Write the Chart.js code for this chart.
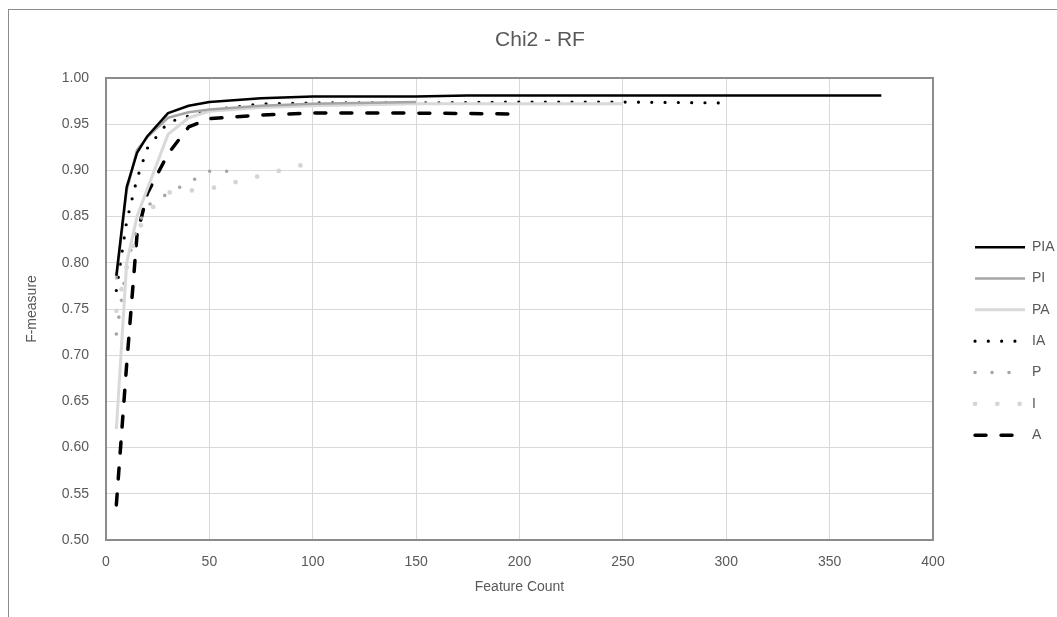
<!DOCTYPE html>
<html>
<head>
<meta charset="utf-8">
<title>Chi2 - RF</title>
<script src="https://cdn.jsdelivr.net/npm/chart.js@4.4.0/dist/chart.umd.min.js"></script>
<style>
  body { margin: 0; background: #fff; overflow: hidden; }
  #frame { position: absolute; left: 8px; top: 9px; width: 1200px; height: 800px;
           border-left: 1px solid #8c8c8c; border-top: 1px solid #8c8c8c; }
  #wrap { position: absolute; left: 0; top: 0; width: 1057px; height: 617px; }
</style>
</head>
<body>
<div id="frame"></div>
<div id="wrap"><canvas id="chi2Chart" width="1057" height="617"></canvas></div>
<script>
// feature counts and F-measure per feature set
const piaX = [5, 10, 15, 20, 30, 40, 50, 75, 100, 150, 175, 200, 250, 300, 375];
const piaY = [0.786, 0.882, 0.919, 0.937, 0.962, 0.970, 0.974, 0.978, 0.980, 0.980, 0.981, 0.981, 0.981, 0.981, 0.981];

const piX = [5, 10, 15, 20, 30, 40, 50, 75, 100, 150];
const piY = [0.782, 0.878, 0.922, 0.936, 0.957, 0.963, 0.966, 0.970, 0.972, 0.974];

const paX = [5, 10, 15, 20, 30, 40, 50, 75, 100, 150, 200, 250];
const paY = [0.620, 0.800, 0.850, 0.880, 0.939, 0.957, 0.964, 0.968, 0.970, 0.972, 0.972, 0.972];

const iaX = [5, 10, 15, 20, 30, 40, 50, 75, 100, 150, 200, 250, 300];
const iaY = [0.770, 0.845, 0.891, 0.924, 0.952, 0.959, 0.965, 0.972, 0.973, 0.973, 0.974, 0.974, 0.973];

const pX = [5, 10, 15, 20, 30, 40, 50, 60];
const pY = [0.723, 0.797, 0.838, 0.862, 0.875, 0.887, 0.899, 0.899];

const iX = [5, 10, 15, 20, 25, 30, 50, 95];
const iY = [0.748, 0.795, 0.833, 0.853, 0.866, 0.876, 0.880, 0.906];

const aX = [5, 10, 15, 20, 30, 40, 50, 75, 100, 150, 200];
const aY = [0.538, 0.690, 0.830, 0.875, 0.918, 0.947, 0.956, 0.960, 0.962, 0.962, 0.961];

const seriesLabels = ['PIA', 'PI', 'PA', 'IA', 'P', 'I', 'A'];

function pairs(xs, ys) {
  return xs.map((x, i) => ({ x: x, y: ys[i] }));
}

Chart.defaults.font.family = "'Liberation Sans', Arial, sans-serif";
Chart.defaults.font.size = 14;
Chart.defaults.color = '#595959';

// gray frame round the plot area
const plotFrame = {
  id: 'plotFrame',
  beforeDatasetsDraw(chart) {
    const a = chart.chartArea;
    const ctx = chart.ctx;
    ctx.save();
    ctx.strokeStyle = '#8c8c8c';
    ctx.lineWidth = 2;
    ctx.strokeRect(a.left, a.top, a.right - a.left, a.bottom - a.top);
    ctx.restore();
  }
};

function lineSet(label, xs, ys, color, width, dash) {
  return {
    label: label,
    data: pairs(xs, ys),
    borderColor: color,
    backgroundColor: color,
    borderWidth: width,
    borderDash: dash,
    borderCapStyle: dash.length ? 'round' : 'butt',
    borderJoinStyle: 'round',
    pointRadius: 0,
    pointHoverRadius: 0,
    tension: 0,
    fill: false
  };
}

const ctx = document.getElementById('chi2Chart').getContext('2d');
const chi2Chart = new Chart(ctx, {
  type: 'line',
  data: {
    datasets: [
      lineSet(seriesLabels[0], piaX, piaY, '#000000', 2.5, []),
      lineSet(seriesLabels[1], piX, piY, '#a5a5a5', 2.5, []),
      lineSet(seriesLabels[2], paX, paY, '#d9d9d9', 3, []),
      lineSet(seriesLabels[3], iaX, iaY, '#000000', 3.2, [0, 13.3]),
      lineSet(seriesLabels[4], pX, pY, '#a5a5a5', 3.6, [0, 17]),
      lineSet(seriesLabels[5], iX, iY, '#d5d5d5', 4.8, [0, 22.3]),
      lineSet(seriesLabels[6], aX, aY, '#000000', 3.5, [11, 15])
    ]
  },
  options: {
    responsive: false,
    animation: false,
    layout: { padding: { left: 23, top: 0, right: 0, bottom: 0 } },
    plugins: {
      title: {
        display: true,
        text: 'Chi2 - RF',
        color: '#595959',
        font: { size: 21, weight: 'normal' },
        padding: { top: 27.4, bottom: 25.4 }
      },
      legend: {
        position: 'right',
        maxWidth: 99.3,
        title: { display: true, text: '', padding: { top: 48.6, bottom: 0 } },
        labels: {
          usePointStyle: true,
          pointStyle: 'line',
          pointStyleWidth: 50,
          padding: 17.33,
          color: '#595959',
          font: { size: 14 },
          generateLabels: chart => chart.data.datasets.map((ds, i) => ({
            text: ds.label,
            fillStyle: ds.borderColor,
            strokeStyle: ds.borderColor,
            lineWidth: ds.borderWidth,
            lineDash: ds.borderDash,
            lineCap: ds.borderCapStyle,
            pointStyle: 'line',
            fontColor: '#595959',
            hidden: false,
            datasetIndex: i
          }))
        }
      },
      tooltip: { enabled: false }
    },
    scales: {
      x: {
        type: 'linear',
        min: 0,
        max: 400,
        afterFit: s => { s.height = 77; },
        grid: { color: '#d9d9d9', lineWidth: 1, drawTicks: false },
        border: { display: false },
        ticks: { stepSize: 50, padding: 14, maxRotation: 0 },
        title: { display: true, text: 'Feature Count', padding: { top: 0, bottom: 21 } }
      },
      y: {
        min: 0.5,
        max: 1.0,
        afterFit: s => { s.width = 83; },
        grid: { color: '#d9d9d9', lineWidth: 1, drawTicks: false },
        border: { display: false },
        ticks: { stepSize: 0.05, padding: 17, callback: v => v.toFixed(2) },
        title: { display: true, text: 'F-measure', padding: { top: 1, bottom: 0 } }
      },
      // empty axis that keeps the gap between plot and legend
      gap: {
        position: 'right',
        display: true,
        afterFit: s => { s.width = 24.7; },
        grid: { display: false, drawTicks: false },
        border: { display: false },
        ticks: { display: false }
      }
    }
  },
  plugins: [plotFrame]
});
</script>
</body>
</html>
